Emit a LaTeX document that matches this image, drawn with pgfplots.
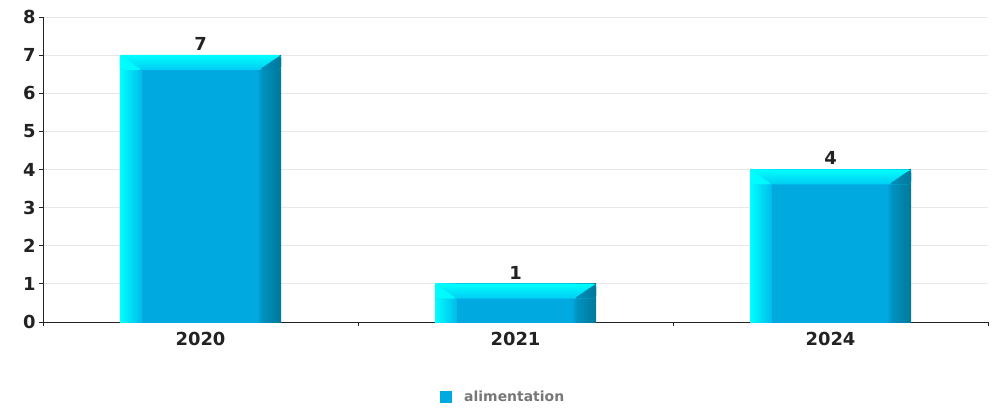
\documentclass[border=0pt]{standalone}
\usepackage{pgfplots}
\pgfplotsset{compat=1.18}
\usepackage{fontspec}
\setmainfont{DejaVu Sans}

\definecolor{cyanL}{HTML}{00FFFF}
\definecolor{cyanS}{HTML}{00BCEC}
\definecolor{cyanT}{HTML}{00CCF2}
\definecolor{midB}{HTML}{00AAE0}
\definecolor{darkS}{HTML}{0092C0}
\definecolor{darkB}{HTML}{00789A}
\definecolor{tickC}{HTML}{222222}
\definecolor{legC}{HTML}{777777}

% bar body: light strip left, dark strip right
\pgfdeclarehorizontalshading{barside}{100bp}{color(0bp)=(cyanL); color(25bp)=(cyanL);
  color(31.6bp)=(cyanS); color(31.8bp)=(midB); color(67.5bp)=(midB); color(69bp)=(darkS);
  color(75bp)=(darkB); color(100bp)=(darkB)}

\pgfplotsset{
  bevel/.style={
    draw=none, shading=barside,
    nodes near coords={},
    every node near coord/.append style={
      yshift=-15bp, minimum width=161bp, minimum height=15bp, inner sep=0pt,
      top color=cyanL, bottom color=cyanT, draw=none, rounded corners=3bp,
      path picture={
        \shade[left color=cyanL, right color=cyanS]
          (path picture bounding box.north west) -- (path picture bounding box.south west)
          -- ([xshift=22bp]path picture bounding box.south west) -- cycle;
        \shade[left color=darkS, right color=darkB]
          (path picture bounding box.north east) -- (path picture bounding box.south east)
          -- ([xshift=-22bp]path picture bounding box.south east) -- cycle;
      },
      label={[font=\fontsize{18}{21}\selectfont\bfseries, text=tickC, inner sep=1bp, label distance=3bp]above:\pgfmathprintnumber{\pgfplotspointmeta}}},
  },
}

\begin{document}
\begin{tikzpicture}
\begin{axis}[
  scale only axis,
  width=945bp, height=305bp,
  ybar, bar width=161bp, bar shift=0pt,
  legend image code/.code={
    \pgfpathrectangle{\pgfpoint{0bp}{-6bp}}{\pgfpoint{12bp}{12bp}}%
    \pgfsetfillcolor{midB}\pgfusepath{fill}%
    \pgfpathmoveto{\pgfpoint{0bp}{0bp}}\pgfpathlineto{\pgfpoint{22bp}{0bp}}%
    \pgfusepath{use as bounding box}},
  xmin=-0.5, xmax=2.5,
  ymin=0, ymax=8,
  xtick={0,1,2},
  xticklabels={2020,2021,2024},
  minor xtick={-0.5,0.5,1.5,2.5},
  ytick={0,1,...,8},
  axis x line*=bottom,
  axis y line*=left,
  axis line style={-, color=tickC, line width=1pt},
  tick align=outside,
  major tick length=4bp,
  minor tick length=4bp,
  x tick style={draw=none},
  minor x tick style={draw=tickC, line width=1pt},
  y tick style={color=tickC, line width=1pt},
  ymajorgrids,
  major grid style={color=black!9, line width=0.8pt},
  /pgf/number format/assume math mode=true,
  tick label style={font=\fontsize{18}{21}\selectfont\bfseries, text=tickC},
  xticklabel style={yshift=-3bp},
  legend style={at={(0.487,-0.246)}, anchor=center, draw=none, fill=none,
    font=\fontsize{14}{16}\selectfont\bfseries, text=legC},
  clip=false,
]
\addplot[bevel] coordinates {(0,7)};
\addlegendentry{alimentation}
\addplot[bevel, forget plot] coordinates {(1,1)};
\addplot[bevel, forget plot] coordinates {(2,4)};
\path (rel axis cs:0,0) ++(-43bp,-84bp);
\path (rel axis cs:1,1) ++(10bp,17bp);
\end{axis}
\end{tikzpicture}
\end{document}
